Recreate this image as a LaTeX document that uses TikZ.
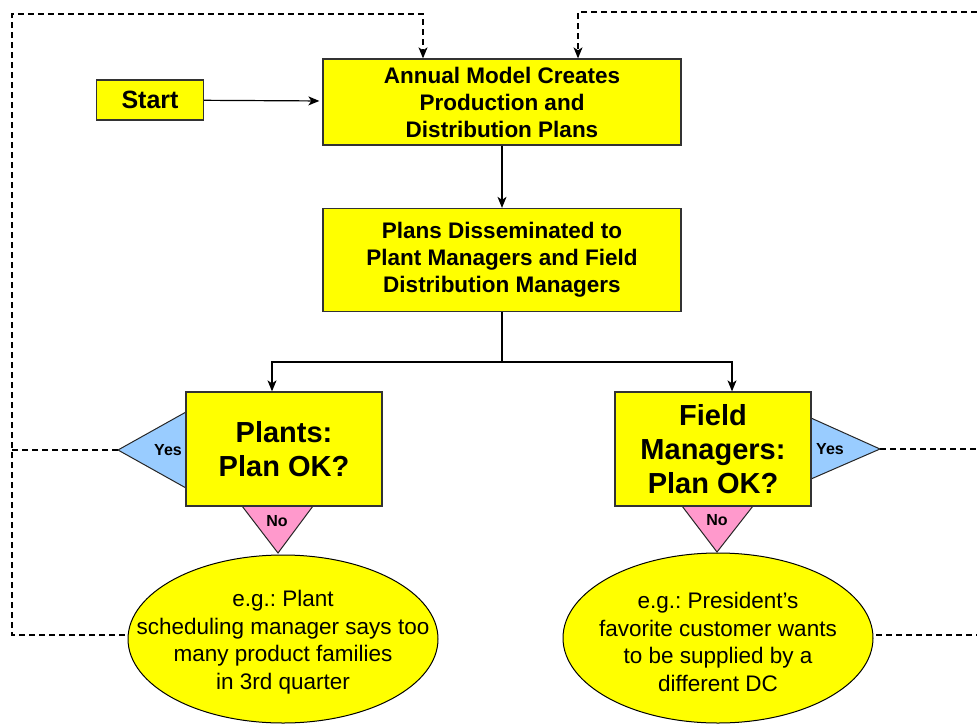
\documentclass[tikz,border=0pt]{standalone}
\usepackage{fontspec}
\setmainfont{Liberation Sans}
\usetikzlibrary{arrows.meta}
\definecolor{boxyellow}{HTML}{FFFF00}
\definecolor{yesblue}{HTML}{99CCFF}
\definecolor{nopink}{HTML}{FF99CC}
\begin{document}
\begin{tikzpicture}[x=1pt,y=-1pt,>={Stealth[length=11pt,width=9pt,inset=3pt]},
    box/.style={draw=black!80,line width=1.3pt,fill=boxyellow,align=center,inner sep=0pt,
      font=\bfseries\fontsize{22.5}{27}\selectfont},
    askbox/.style={box,minimum width=196pt,minimum height=114pt,
      font=\bfseries\fontsize{29}{34}\selectfont},
    notefill/.style={draw=black,line width=1pt,fill=boxyellow},
    notetext/.style={align=center,inner sep=0pt,font=\frenchspacing\fontsize{22.5}{27.5}\selectfont},
    yesflag/.style={draw=black!85,line width=1pt,fill=yesblue},
    noflag/.style={draw=black!85,line width=1pt,fill=nopink},
    flagtext/.style={font=\bfseries\fontsize{16}{16}\selectfont,inner sep=0pt},
    flow/.style={line width=1.2pt,->},
    loopline/.style={line width=1.2pt,dash pattern=on 6pt off 4pt}]
  \useasboundingbox (0,0) rectangle (977,723);
  \clip (0,0) rectangle (977,723);
  % main column
  \node[box,minimum width=107pt,minimum height=40pt,font=\bfseries\fontsize{25}{30}\selectfont]
    (start) at (150,100) {Start};
  \node[box,minimum width=358pt,minimum height=86pt] (annual) at (502,102)
    {Annual Model Creates\\Production and\\Distribution Plans};
  \node[box,minimum width=358pt,minimum height=103pt] (plans) at (502,260)
    {Plans Disseminated to\\Plant Managers and Field\\Distribution Managers};
  % decision flags, drawn behind the boxes
  \draw[yesflag] (186,412) -- (118,450) -- (186,488) -- cycle;
  \draw[noflag] (242,506) -- (278,553) -- (313,506) -- cycle;
  \draw[yesflag] (811,418) -- (880,449) -- (811,479) -- cycle;
  \draw[noflag] (682,506) -- (717,552) -- (753,506) -- cycle;
  \coordinate (plantsyes) at (118,450);
  \coordinate (fieldyes) at (880,449);
  % the two checks
  \node[askbox] (plants) at (284,449) {Plants:\\Plan OK?};
  \node[askbox] (field) at (713,449) {Field\\Managers:\\Plan OK?};
  \node[flagtext] at (168,450) {Yes};
  \node[flagtext] at (277,521) {No};
  \node[flagtext] at (830,449) {Yes};
  \node[flagtext] at (717,520) {No};
  % the two examples
  \draw[notefill] (283,639) ellipse [x radius=155, y radius=84];
  \draw[notefill] (718,638) ellipse [x radius=155, y radius=85];
  \node[notetext] (plantsnote) at (283,642)
    {e.g.: Plant\\scheduling manager says too\\many product families\\in 3rd quarter};
  \node[notetext] (fieldnote) at (718,642)
    {e.g.: President’s\\favorite customer wants\\to be supplied by a\\different DC};
  \coordinate (plantsnoteleft) at (125,635);
  \coordinate (fieldnoteright) at (876,635);
  % solid connectors
  \coordinate (split) at (502,362);
  \draw[flow,shorten >=3pt] (start) -- (annual);
  \draw[flow] (annual) -- (plans);
  \draw[line width=1.2pt] (plans) -- (split);
  \draw[flow] (split) -| ([xshift=-12pt]plants.north);
  \draw[flow] (split) -| ([xshift=19pt]field.north);
  % feedback loops
  \coordinate (lefttop) at (12,14);
  \coordinate (righttop) at (990,12);
  \draw[loopline,->] (plantsnoteleft) -| (lefttop) -| ([xshift=-79pt]annual.north);
  \draw[loopline] (plantsyes) -- (plantsyes -| lefttop);
  \draw[loopline,->] (fieldnoteright) -| (righttop) -| ([xshift=76pt]annual.north);
  \draw[loopline] (fieldyes) -- (fieldyes -| righttop);
\end{tikzpicture}
\end{document}
